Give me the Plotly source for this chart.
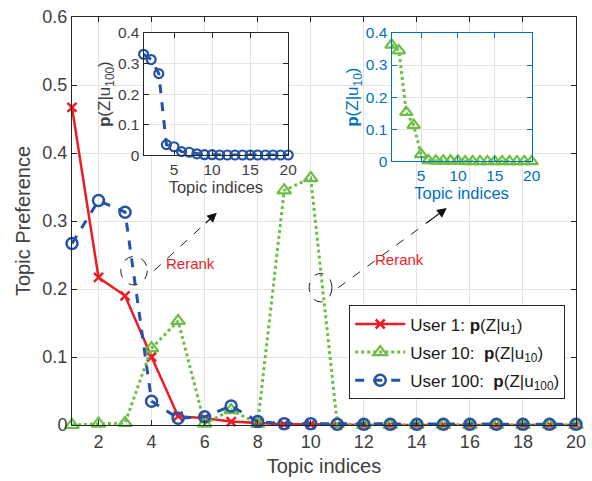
import plotly.graph_objects as go

topics = list(range(1, 21))
user1 = [0.467, 0.217, 0.190, 0.100, 0.013, 0.010, 0.005, 0.003, 0.001, 0.001,
         0, 0, 0, 0, 0, 0, 0, 0, 0, 0]
user10 = [0.0, 0.002, 0.003, 0.113, 0.153, 0.002, 0.022, 0.002, 0.345, 0.363,
          0.002, 0, 0, 0, 0, 0, 0, 0, 0, 0]
user100 = [0.267, 0.330, 0.313, 0.035, 0.010, 0.012, 0.028, 0.005, 0.002, 0.002,
           0.001, 0.001, 0.001, 0.001, 0.001, 0.001, 0.001, 0.001, 0.001, 0.001]
user100_sorted = sorted(user100, reverse=True)
user10_sorted = sorted(user10, reverse=True)

x_ticks = [2, 4, 6, 8, 10, 12, 14, 16, 18, 20]
y_ticks = [0, 0.1, 0.2, 0.3, 0.4, 0.5, 0.6]
inset_x_ticks = [5, 10, 15, 20]
inset_y_ticks = [0, 0.1, 0.2, 0.3, 0.4]

RED = "#ED1C24"
GREEN = "#6CBE45"
BLUE = "#2553A6"
MBLUE = "#0072BD"
DARK = "#262626"
GRID = "#e3e3e3"
FONT = "Liberation Sans"

fig = go.Figure()
fig.add_trace(go.Scatter(
    x=topics, y=user1, mode="lines+markers", cliponaxis=False, legendgroup="g1",
    line=dict(color=RED, width=2.5),
    marker=dict(symbol="x-thin-open", size=9, color=RED, line=dict(color=RED, width=2.5)),
    name="User 1: <b>p</b>(Z|u<sub>1</sub>)"))
fig.add_trace(go.Scatter(
    x=topics, y=user10, mode="lines+markers", cliponaxis=False, legendgroup="g2",
    line=dict(color=GREEN, width=3, dash="dot"),
    marker=dict(symbol="triangle-up-open", size=12, color=GREEN, line=dict(color=GREEN, width=2.2)),
    name="User 10:  <b>p</b>(Z|u<sub>10</sub>)"))
fig.add_trace(go.Scatter(
    x=topics, y=user100, mode="lines+markers", cliponaxis=False, legendgroup="g3",
    line=dict(color=BLUE, width=3, dash="dash"),
    marker=dict(symbol="circle-open", size=11, color=BLUE, line=dict(color=BLUE, width=2.5)),
    name="User 100:  <b>p</b>(Z|u<sub>100</sub>)"))

# inset 1
fig.add_trace(go.Scatter(
    x=topics, y=user100_sorted, mode="lines+markers", cliponaxis=False, showlegend=False,
    xaxis="x2", yaxis="y2",
    line=dict(color=BLUE, width=3, dash="dash"),
    marker=dict(symbol="circle-open", size=9, color=BLUE, line=dict(color=BLUE, width=2.2))))
# inset 2
fig.add_trace(go.Scatter(
    x=topics, y=user10_sorted, mode="lines+markers", cliponaxis=False, showlegend=False,
    xaxis="x3", yaxis="y3",
    line=dict(color=GREEN, width=3, dash="dot"),
    marker=dict(symbol="triangle-up-open", size=11, color=GREEN, line=dict(color=GREEN, width=2.2))))

axis_common = dict(showline=True, mirror="ticks", ticks="inside", ticklen=5,
                   showgrid=True, gridcolor=GRID, zeroline=False)

fig.update_layout(
    width=592, height=481,
    margin=dict(l=72, r=7, t=15, b=56),
    paper_bgcolor="white", plot_bgcolor="white",
    font=dict(family=FONT, color=DARK),
    xaxis=dict(domain=[0, 1], range=[1, 20], tickvals=x_ticks,
               linecolor=DARK, tickcolor=DARK,
               tickfont=dict(size=18, color="#404040"),
               title=dict(text="Topic indices", font=dict(size=20, color="#404040"), standoff=8),
               **axis_common),
    yaxis=dict(domain=[0, 1], range=[0, 0.6], tickvals=y_ticks,
               ticktext=["0", "0.1", "0.2", "0.3", "0.4", "0.5", "0.6"],
               linecolor=DARK, tickcolor=DARK,
               tickfont=dict(size=18, color="#404040"),
               title=dict(text="Topic Preference", font=dict(size=20, color="#404040"), standoff=6),
               **axis_common),
    xaxis2=dict(domain=[0.142, 0.429], range=[1, 20], tickvals=inset_x_ticks, anchor="y2",
                linecolor=DARK, tickcolor=DARK,
                tickfont=dict(size=15.5, color="#404040"),
                title=dict(text="Topic indices", font=dict(size=16.5, color="#404040"), standoff=3),
                **axis_common),
    yaxis2=dict(domain=[0.661, 0.961], range=[0, 0.4], tickvals=inset_y_ticks,
                ticktext=["0", "0.1", "0.2", "0.3", "0.4"], anchor="x2",
                linecolor=DARK, tickcolor=DARK,
                tickfont=dict(size=15.5, color="#404040"),
                title=dict(text="<b>p</b>(Z|u<sub>100</sub>)", font=dict(size=17, color="#404040"), standoff=2),
                **axis_common),
    xaxis3=dict(domain=[0.634, 0.912], range=[1, 20], tickvals=inset_x_ticks, anchor="y3",
                linecolor=MBLUE, tickcolor=MBLUE,
                tickfont=dict(size=15.5, color=MBLUE),
                title=dict(text="Topic indices", font=dict(size=16.5, color=MBLUE), standoff=3),
                **axis_common),
    yaxis3=dict(domain=[0.646, 0.961], range=[0, 0.4], tickvals=inset_y_ticks,
                ticktext=["0", "0.1", "0.2", "0.3", "0.4"], anchor="x3",
                linecolor=MBLUE, tickcolor=MBLUE,
                tickfont=dict(size=15.5, color=MBLUE),
                title=dict(text="<b>p</b>(Z|u<sub>10</sub>)", font=dict(size=17, color=MBLUE), standoff=2),
                **axis_common),
    legend=dict(x=0.55, y=0.293, xanchor="left", yanchor="top",
                bgcolor="white", bordercolor=DARK, borderwidth=1,
                font=dict(size=17, color="#1a1a1a"), tracegroupgap=3,
                traceorder="grouped", itemwidth=50),
)

# dashed ellipses
for cx, cy, rx, ry in [(3.34, 0.227, 0.5, 0.021), (10.37, 0.202, 0.43, 0.021)]:
    fig.add_shape(type="circle", xref="x", yref="y",
                  x0=cx - rx, x1=cx + rx, y0=cy - ry, y1=cy + ry,
                  line=dict(color="#222", width=1, dash="dash"))

# dashed arrows
for (xs, ys, xe, ye) in [(4.09, 0.227, 6.46, 0.312), (11.04, 0.202, 15.13, 0.319)]:
    fig.add_shape(type="line", xref="x", yref="y", x0=xs, y0=ys,
                  x1=xs + (xe - xs) * 0.9, y1=ys + (ye - ys) * 0.9,
                  line=dict(color="#222", width=1, dash="dash"))
    fig.add_annotation(x=xe, y=ye, ax=xs + (xe - xs) * 0.8, ay=ys + (ye - ys) * 0.8,
                       xref="x", yref="y", axref="x", ayref="y",
                       showarrow=True, arrowhead=2, arrowsize=1.6, arrowwidth=1.2,
                       arrowcolor="#111", text="")

for tx, ty in [(5.46, 0.238), (13.34, 0.244)]:
    fig.add_annotation(x=tx, y=ty, xref="x", yref="y", text="Rerank", showarrow=False,
                       font=dict(size=15, color=RED, family=FONT))

fig.write_html("out.html")
